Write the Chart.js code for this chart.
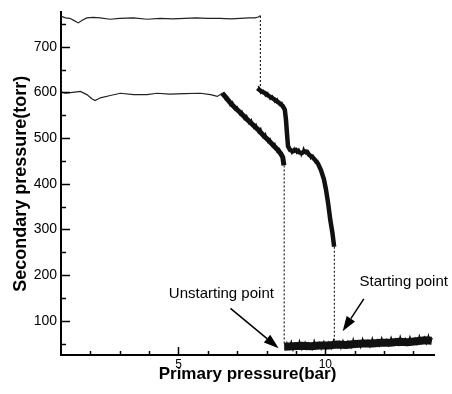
<!DOCTYPE html>
<html>
<head>
<meta charset="utf-8">
<script src="https://cdn.jsdelivr.net/npm/chart.js@4"></script>
<style>
  html, body { margin: 0; padding: 0; background: #fff; }
  #wrap { width: 452px; height: 394px; }
</style>
</head>
<body>
<div id="wrap"><canvas id="chart"></canvas></div>
<script>
// pressure traces, [primary bar, secondary torr]
const upperPlateau = [[1.0,767],[1.15,763],[1.3,762],[1.45,757],[1.59,752],[1.72,758],[1.88,763],[2.1,764],[2.33,763],[2.67,760],[3.0,762],[3.47,763],[3.93,760],[4.38,762],[4.8,761],[5.2,762],[5.6,763],[6.0,762],[6.4,762],[6.8,761],[7.1,762],[7.4,763],[7.6,763],[7.72,765],[7.79,768]];
const upperDrop = [[7.79,767],[7.79,612]];
const upperSlope = [[7.69,609],[7.8,603],[7.95,598],[8.1,591],[8.25,585],[8.4,578],[8.55,570],[8.62,562],[8.66,540],[8.7,505],[8.73,482],[8.8,474],[8.9,471],[9.0,474],[9.1,469],[9.2,467],[9.3,471],[9.38,470],[9.45,463],[9.55,459],[9.65,452],[9.75,444],[9.85,430],[9.95,410],[10.02,388],[10.1,355],[10.17,320],[10.24,293],[10.3,262]];
const upperSlopeNoise = [[7.72,614],[7.8,598],[7.88,604],[7.96,592],[8.04,599],[8.12,585],[8.2,592],[8.28,579],[8.36,586],[8.44,572],[8.52,578],[8.6,562],[8.66,545],[8.72,486],[8.78,480],[8.86,466],[8.94,478],[9.02,467],[9.1,476],[9.18,462],[9.26,478],[9.34,465],[9.42,470],[9.5,455],[9.58,462],[9.66,446],[9.74,450],[9.82,432]];
const startDrop = [[10.31,262],[10.31,50]];
const lowerStart = [[1.0,656],[1.0,602]];
const lowerPlateau = [[1.0,601],[1.15,598],[1.4,600],[1.66,602],[1.88,595],[2.05,586],[2.16,582],[2.34,588],[2.68,593],[3.02,598],[3.47,595],[3.93,595],[4.27,598],[4.7,596],[5.2,597],[5.74,598],[6.09,595],[6.32,591],[6.49,598]];
const lowerSlope = [[6.49,598],[6.6,590],[6.75,578],[6.9,568],[7.1,556],[7.3,543],[7.5,531],[7.7,519],[7.9,505],[8.05,496],[8.2,486],[8.35,476],[8.48,466],[8.55,458],[8.59,440]];
const lowerSlopeNoise = [[6.52,600],[6.6,584],[6.68,588],[6.76,571],[6.84,579],[6.92,562],[7.0,568],[7.08,552],[7.16,559],[7.24,541],[7.32,549],[7.4,532],[7.48,540],[7.56,522],[7.64,530],[7.72,512],[7.8,521],[7.88,502],[7.96,510],[8.04,491],[8.12,498],[8.2,481],[8.28,488],[8.36,470],[8.44,476],[8.5,458]];
const unstartDrop = [[8.6,440],[8.6,45]];
const lowBand = [[8.6,43],[8.9,44],[9.2,45],[9.5,44],[9.8,46],[10.1,46],[10.4,48],[10.7,47],[11.0,49],[11.3,50],[11.6,50],[11.9,52],[12.2,52],[12.5,54],[12.8,53],[13.1,55],[13.4,57],[13.62,56]];
const lowBandNoise = [[8.62,37],[8.69,52],[8.75,40],[8.84,55],[8.9,36],[8.97,50],[9.06,40],[9.12,56],[9.2,37],[9.31,53],[9.37,39],[9.43,51],[9.55,37],[9.62,57],[9.7,41],[9.79,52],[9.86,38],[9.95,55],[10.04,40],[10.1,53],[10.2,39],[10.28,58],[10.36,42],[10.47,54],[10.53,40],[10.6,57],[10.71,43],[10.77,55],[10.88,41],[10.95,60],[11.03,44],[11.14,55],[11.2,42],[11.27,61],[11.36,45],[11.45,57],[11.52,43],[11.6,62],[11.68,46],[11.77,58],[11.84,45],[11.92,63],[12.0,47],[12.09,59],[12.15,46],[12.24,64],[12.33,48],[12.4,60],[12.48,47],[12.55,66],[12.64,49],[12.72,61],[12.8,48],[12.88,65],[12.96,50],[13.05,62],[13.12,49],[13.2,67],[13.28,51],[13.37,64],[13.44,50],[13.51,68],[13.58,52],[13.64,62]];

// axes
const xTicks = [2,3,4,5,6,7,8,9,10,11,12,13];
const xLabels = [5,10];
const yTicks = [50,100,150,200,250,300,350,400,450,500,550,600,650,700,750];
const yLabels = [100,200,300,400,500,600,700];

// annotations: text, text anchor, arrow start, arrow tip
const notes = [
  { text: "Unstarting point", at: [6.46,159], from: [6.77,127], to: [8.41,40] },
  { text: "Starting point", at: [12.67,185], from: [11.31,148], to: [10.59,77] }
];

const pts = arr => arr.map(p => ({ x: p[0], y: p[1] }));

function trace(data, width, dashed, color) {
  return {
    data: pts(data),
    borderColor: color || "#111",
    borderWidth: width,
    borderDash: dashed ? [2, 2] : [],
    pointRadius: 0,
    tension: 0,
    fill: false
  };
}

// ticks drawn inside the plot, plus the arrow labels
const insideTicks = {
  id: "insideTicks",
  afterDraw(chart) {
    const ctx = chart.ctx;
    const xs = chart.scales.x, ys = chart.scales.y;
    const area = chart.chartArea;
    ctx.save();
    ctx.strokeStyle = "#000";
    ctx.lineWidth = 1.5;
    xTicks.forEach(v => {
      const px = Math.round(xs.getPixelForValue(v)) + 0.5;
      const len = xLabels.includes(v) ? 8 : 4;
      ctx.beginPath();
      ctx.moveTo(px, area.bottom);
      ctx.lineTo(px, area.bottom - len);
      ctx.stroke();
    });
    yTicks.forEach(v => {
      const py = Math.round(ys.getPixelForValue(v)) + 0.5;
      const len = yLabels.includes(v) ? 9 : 5;
      ctx.beginPath();
      ctx.moveTo(area.left, py);
      ctx.lineTo(area.left + len, py);
      ctx.stroke();
    });

    ctx.fillStyle = "#000";
    ctx.font = '15px "Liberation Sans", Arial, sans-serif';
    ctx.textAlign = "center";
    ctx.textBaseline = "middle";
    notes.forEach(n => {
      ctx.fillText(n.text, xs.getPixelForValue(n.at[0]), ys.getPixelForValue(n.at[1]));
      const x0 = xs.getPixelForValue(n.from[0]), y0 = ys.getPixelForValue(n.from[1]);
      const x1 = xs.getPixelForValue(n.to[0]), y1 = ys.getPixelForValue(n.to[1]);
      const ang = Math.atan2(y1 - y0, x1 - x0);
      const head = 15, half = 5;
      const bx = x1 - head * Math.cos(ang), by = y1 - head * Math.sin(ang);
      ctx.lineWidth = 1.5;
      ctx.beginPath();
      ctx.moveTo(x0, y0);
      ctx.lineTo(bx, by);
      ctx.stroke();
      ctx.beginPath();
      ctx.moveTo(x1, y1);
      ctx.lineTo(bx + half * Math.sin(ang), by - half * Math.cos(ang));
      ctx.lineTo(bx - half * Math.sin(ang), by + half * Math.cos(ang));
      ctx.closePath();
      ctx.fill();
    });
    ctx.restore();
  }
};

new Chart(document.getElementById("chart"), {
  type: "line",
  data: {
    datasets: [
      trace(upperPlateau, 1.2, false, "#222"),
      trace(upperDrop, 1.2, true, "#222"),
      trace(upperSlope, 4.5, false),
      trace(upperSlopeNoise, 1.5, false),
      trace(startDrop, 1.2, true, "#222"),
      trace(lowerStart, 1.2, true, "#333"),
      trace(lowerPlateau, 1.2, false, "#222"),
      trace(lowerSlope, 5, false),
      trace(lowerSlopeNoise, 1.5, false),
      trace(unstartDrop, 1.2, true, "#222"),
      trace(lowBand, 8, false),
      trace(lowBandNoise, 1.3, false)
    ]
  },
  options: {
    responsive: true,
    maintainAspectRatio: false,
    animation: false,
    layout: { padding: { top: 8, right: 18, left: 0, bottom: 0 } },
    plugins: { legend: { display: false }, tooltip: { enabled: false } },
    scales: {
      x: {
        type: "linear",
        min: 1,
        max: 13.7,
        afterBuildTicks: s => { s.ticks = xTicks.map(v => ({ value: v })); },
        afterFit: s => { s.height = 39; },
        grid: { display: false, drawTicks: false },
        border: { display: true, color: "#000", width: 2 },
        ticks: {
          autoSkip: false,
          maxRotation: 0,
          padding: 2,
          color: "#000",
          font: { family: '"Liberation Sans", Arial, sans-serif', size: 12 },
          callback: v => xLabels.includes(v) ? String(v) : ""
        },
        title: {
          display: true,
          text: "Primary pressure(bar)",
          color: "#000",
          font: { family: '"Liberation Sans", Arial, sans-serif', size: 17, weight: "bold" },
          padding: { top: 0, bottom: 9 }
        }
      },
      y: {
        min: 25,
        max: 775,
        afterBuildTicks: s => { s.ticks = yTicks.map(v => ({ value: v })); },
        afterFit: s => { s.width = 61; },
        grid: { display: false, drawTicks: false },
        border: { display: true, color: "#000", width: 2 },
        ticks: {
          autoSkip: false,
          padding: 4,
          color: "#000",
          font: { family: '"Liberation Sans", Arial, sans-serif', size: 14 },
          callback: v => yLabels.includes(v) ? String(v) : ""
        },
        title: {
          display: true,
          text: "Secondary pressure(torr)",
          color: "#000",
          font: { family: '"Liberation Sans", Arial, sans-serif', size: 18, weight: "bold" },
          padding: { top: 10, bottom: 0 }
        }
      }
    }
  },
  plugins: [insideTicks]
});
</script>
</body>
</html>
